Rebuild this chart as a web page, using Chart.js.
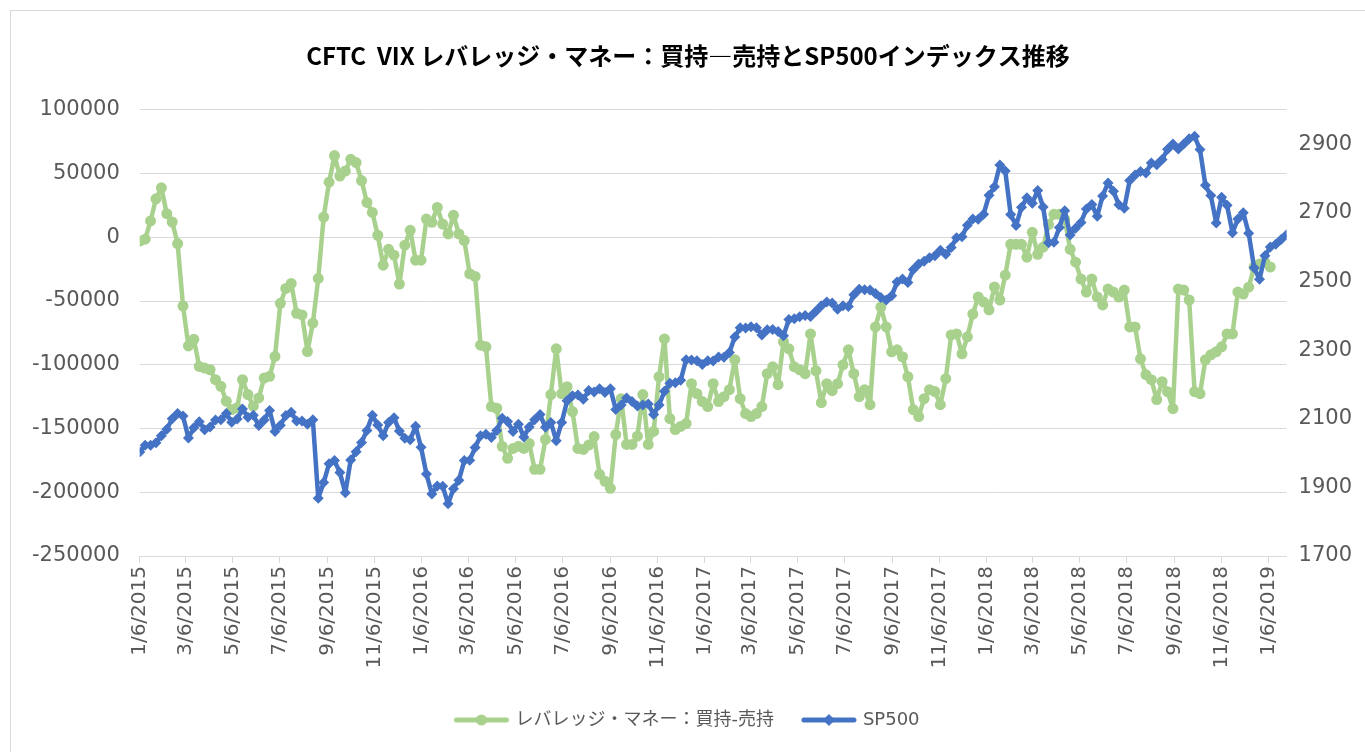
<!DOCTYPE html>
<html>
<head>
<meta charset="utf-8">
<script src="https://cdn.jsdelivr.net/npm/chart.js@4.4.1/dist/chart.umd.min.js"></script>
<style>
    html, body { margin: 0; padding: 0; background: #fff; }
    #frame { position: absolute; left: 10px; top: 10px; width: 1400px; height: 800px; border-left: 1px solid #d9d9d9; border-top: 1px solid #d9d9d9; }
    #chart { position: absolute; left: 0; top: 0; }
</style>
</head>
<body>
<div id="frame"></div>
<canvas id="chart" width="1365" height="752"></canvas>
<script>
// weekly data, first week 1/6/2015
var startDate = "1/6/2015";

// レバレッジ・マネー：買持-売持 (left axis)
var leveragedNet = [
    -3000, -1500, 12800, 30200, 38800, 18500, 12000, -4900, -53900, -85200,
    -80000, -101300, -102600, -103900, -111700, -116900, -128600, -135100, -133800, -111700,
    -123400, -132500, -126000, -110400, -109100, -93500, -51800, -40100, -36200, -59600,
    -60900, -89600, -67400, -32300, 15900, 43200, 64100, 48000, 52000, 61200,
    58600, 44500, 27300, 19500, 1600, -21900, -9400, -14000, -36700, -6200,
    5500, -18000, -18000, 14300, 11700, 23400, 10400, 2600, 17200, 2600,
    -2600, -28600, -30700, -84600, -85900, -132800, -134100, -164000, -173400, -165600,
    -164000, -165600, -161700, -182000, -182000, -158600, -123400, -87500, -122700, -117200,
    -136700, -165600, -166400, -163000, -156300, -185900, -191400, -196900, -154700, -126600,
    -162500, -162500, -156000, -123400, -162500, -152300, -109400, -79700, -142200, -150800,
    -148400, -146100, -114800, -122700, -128900, -132800, -114800, -128900, -125000, -119500,
    -96000, -126600, -138300, -140600, -138300, -132800, -107000, -101600, -115600, -82000,
    -87500, -101600, -103900, -107000, -75800, -104700, -129700, -114800, -120300, -114800,
    -100000, -88300, -107000, -125000, -119500, -131300, -70300, -54700, -70300, -89800,
    -88300, -93700, -109400, -135200, -140600, -126600, -119500, -121000, -131300, -110900,
    -76600, -75800, -91400, -78100, -60200, -46900, -50800, -57000, -39000, -49200,
    -29700, -5500, -5500, -5500, -15600, 3900, -13300, -7800, 10000, 18000,
    18000, 14000, -9400, -19500, -32800, -43000, -32800, -46900, -53100, -40600,
    -43000, -46900, -41400, -70300, -70300, -95300, -107800, -111700, -127300, -113300,
    -121100, -134400, -40600, -41400, -49200, -121100, -122700, -96100, -92200, -89800,
    -85900, -75800, -75800, -43000, -44500, -39100, -23400, -21000, -19500, -23400
];

// SP500 (right axis)
var sp500 = [
    2003, 2023, 2023, 2030, 2050, 2069, 2100, 2115, 2108, 2044,
    2074, 2091, 2068, 2076, 2096, 2097, 2115, 2090, 2099, 2128,
    2104, 2110, 2080, 2096, 2124, 2063, 2081, 2109, 2119, 2093,
    2093, 2084, 2097, 1868, 1914, 1969, 1978, 1943, 1884, 1980,
    2004, 2031, 2066, 2110, 2082, 2050, 2089, 2103, 2064, 2043,
    2039, 2078, 2017, 1939, 1881, 1904, 1903, 1852, 1896, 1921,
    1978, 1979, 2016, 2050, 2055, 2045, 2066, 2101, 2092, 2063,
    2084, 2047, 2076, 2097, 2112, 2075, 2089, 2036, 2089, 2152,
    2167, 2169, 2157, 2182, 2178, 2187, 2176, 2187, 2127, 2140,
    2160, 2150, 2137, 2140, 2143, 2112, 2140, 2180, 2203, 2205,
    2212, 2272, 2271, 2269, 2258, 2269, 2268, 2280, 2279, 2293,
    2338, 2365, 2364, 2368, 2365, 2344, 2359, 2360, 2354, 2342,
    2389, 2391, 2397, 2401, 2398, 2413, 2429, 2440, 2437, 2419,
    2429, 2427, 2461, 2477, 2476, 2475, 2465, 2453, 2446, 2458,
    2498, 2507, 2497, 2535, 2551, 2559, 2569, 2575, 2591, 2579,
    2599, 2627, 2630, 2664, 2682, 2681, 2696, 2751, 2776, 2839,
    2822, 2695, 2663, 2716, 2744, 2728, 2765, 2717, 2613, 2614,
    2657, 2706, 2635, 2655, 2672, 2711, 2724, 2690, 2749, 2787,
    2763, 2723, 2713, 2794, 2810, 2820, 2816, 2845, 2840, 2855,
    2885, 2900, 2886, 2900, 2916, 2923, 2884, 2780, 2750, 2670,
    2745, 2722, 2642, 2682, 2700, 2640, 2540, 2506, 2575, 2600,
    2608, 2622, 2636
];

var tickLabels = [
    "1/6/2015", "3/6/2015", "5/6/2015", "7/6/2015", "9/6/2015", "11/6/2015",
    "1/6/2016", "3/6/2016", "5/6/2016", "7/6/2016", "9/6/2016", "11/6/2016",
    "1/6/2017", "3/6/2017", "5/6/2017", "7/6/2017", "9/6/2017", "11/6/2017",
    "1/6/2018", "3/6/2018", "5/6/2018", "7/6/2018", "9/6/2018", "11/6/2018",
    "1/6/2019"
];
var rightTicks = [1700, 1900, 2100, 2300, 2500, 2700, 2900];

var chartTitle = "CFTC  VIX レバレッジ・マネー：買持―売持とSP500インデックス推移";
var seriesNames = ["レバレッジ・マネー：買持-売持", "SP500"];
var green = "#A9D18E";
var blue = "#4472C4";

function parseDate(s) {
    var p = s.split("/");
    return new Date(+p[2], +p[0] - 1, +p[1]);
}
function dayOffset(s) {
    return Math.round((parseDate(s) - parseDate(startDate)) / 86400000);
}

// x positions in days since the first week
var weekDays = [];
for (var i = 0; i < sp500.length; i++) {
    weekDays.push(i * 7);
}
var tickDays = tickLabels.map(dayOffset);

function legendIcon(color, style) {
    var c = document.createElement("canvas");
    c.width = 58;
    c.height = 14;
    var g = c.getContext("2d");
    g.strokeStyle = color;
    g.fillStyle = color;
    g.lineWidth = 5;
    g.lineCap = "round";
    g.beginPath();
    g.moveTo(4, 7);
    g.lineTo(54, 7);
    g.stroke();
    g.beginPath();
    if (style === "circle") {
        g.arc(29, 7, 5.5, 0, Math.PI * 2);
    } else {
        g.moveTo(29, 1);
        g.lineTo(35, 7);
        g.lineTo(29, 13);
        g.lineTo(23, 7);
        g.closePath();
    }
    g.fill();
    return c;
}
var icons = [legendIcon(green, "circle"), legendIcon(blue, "diamond")];

Chart.defaults.font.family = '"DejaVu Sans", "Noto Sans CJK JP", sans-serif';
Chart.defaults.color = "#595959";

var ctx = document.getElementById("chart").getContext("2d");
var myChart = new Chart(ctx, {
    type: "line",
    data: {
        labels: weekDays,
        datasets: [
            {
                label: seriesNames[0],
                data: leveragedNet,
                yAxisID: "y",
                borderColor: green,
                backgroundColor: green,
                borderWidth: 4.5,
                borderJoinStyle: "round",
                pointStyle: "circle",
                pointRadius: 5.5,
                pointBorderWidth: 0,
                pointBackgroundColor: green,
                tension: 0,
                order: 2
            },
            {
                label: seriesNames[1],
                data: sp500,
                yAxisID: "y1",
                borderColor: blue,
                backgroundColor: blue,
                borderWidth: 4.5,
                borderJoinStyle: "round",
                pointStyle: "rectRot",
                pointRadius: 5.5,
                pointBorderWidth: 0,
                pointBackgroundColor: blue,
                tension: 0,
                order: 1
            }
        ]
    },
    options: {
        responsive: false,
        animation: false,
        devicePixelRatio: 1,
        layout: { padding: { left: 12, right: 1, top: 12, bottom: 13 } },
        plugins: {
            tooltip: { enabled: false },
            title: {
                display: true,
                text: chartTitle,
                color: "#000",
                font: { family: '"Noto Sans CJK JP"', size: 24, weight: "bold" },
                padding: { top: 29, bottom: 40 }
            },
            legend: {
                position: "bottom",
                labels: {
                    usePointStyle: true,
                    pointStyleWidth: 50,
                    padding: 30,
                    color: "#595959",
                    font: { size: 18 },
                    sort: function (a, b) {
                        return a.datasetIndex - b.datasetIndex;
                    },
                    generateLabels: function (chart) {
                        var items = Chart.defaults.plugins.legend.labels.generateLabels(chart);
                        items.forEach(function (item) {
                            item.pointStyle = icons[item.datasetIndex];
                        });
                        return items;
                    }
                }
            }
        },
        scales: {
            x: {
                type: "linear",
                bounds: "data",
                min: 0,
                max: weekDays[weekDays.length - 1],
                afterBuildTicks: function (scale) {
                    scale.ticks = tickDays.map(function (d) { return { value: d }; });
                },
                afterFit: function (scale) {
                    scale.height = 125;
                },
                ticks: {
                    autoSkip: false,
                    minRotation: 90,
                    maxRotation: 90,
                    padding: 3,
                    font: { size: 20 },
                    callback: function (value, index) {
                        return tickLabels[index];
                    }
                },
                grid: { drawOnChartArea: false, drawTicks: true, tickLength: 7, color: "#d9d9d9" },
                border: { display: true, color: "#d9d9d9", width: 1 }
            },
            y: {
                position: "left",
                min: -250000,
                max: 100000,
                ticks: {
                    stepSize: 50000,
                    padding: 20,
                    font: { size: 21 },
                    callback: function (value) { return String(value); }
                },
                grid: { color: "#d9d9d9", drawTicks: false },
                border: { display: false }
            },
            y1: {
                position: "right",
                min: 1700,
                max: 3000,
                afterBuildTicks: function (scale) {
                    scale.ticks = rightTicks.map(function (v) { return { value: v }; });
                },
                ticks: {
                    padding: 12,
                    font: { size: 21 },
                    callback: function (value) { return String(value); }
                },
                grid: { drawOnChartArea: false, drawTicks: false },
                border: { display: false }
            }
        }
    }
});
</script>
</body>
</html>
